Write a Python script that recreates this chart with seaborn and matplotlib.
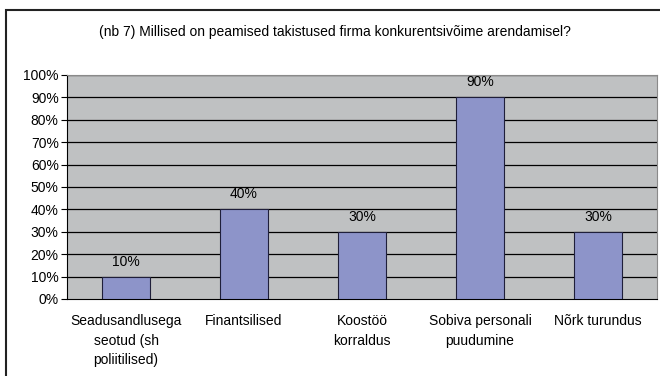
import numpy as np
import pandas as pd
import matplotlib
matplotlib.use('Agg')
from matplotlib import pyplot as plt
from matplotlib.patches import Rectangle
import seaborn as sns

sns.set_style('white')
plt.rcParams['font.family'] = ['Liberation Sans', 'DejaVu Sans']
plt.rcParams['text.color'] = 'black'
plt.rcParams['xtick.color'] = 'black'
plt.rcParams['ytick.color'] = 'black'

title = '(nb 7) Millised on peamised takistused firma konkurentsivõime arendamisel?'
categories = ['Seadusandlusega\nseotud (sh\npoliitilised)',
              'Finantsilised',
              'Koostöö\nkorraldus',
              'Sobiva personali\npuudumine',
              'Nõrk turundus']
values = [10, 40, 30, 90, 30]
yticks = list(range(0, 101, 10))

df = pd.DataFrame({'cat': categories, 'val': values})

fig = plt.figure(figsize=(6.6, 3.76), dpi=100)
ax = fig.add_axes([67 / 660, 1 - 299 / 376, 590 / 660, 224 / 376])
ax.set_facecolor('#bfc1c2')

sns.barplot(data=df, x='cat', y='val', ax=ax, color='#8d94c9',
            width=0.41, edgecolor='#1f1f3a', linewidth=0.8, saturation=1,
            zorder=3)

# value labels above the bars
for i, v in enumerate(values):
    ax.text(i, v + 3.6, '{}%'.format(v), ha='center', va='bottom',
            fontsize=10, color='black', zorder=4)

ax.set_ylim(0, 100)
ax.set_xlim(-0.5, len(categories) - 0.5)
ax.set_yticks(yticks)
ax.set_yticklabels(['{}%'.format(t) for t in yticks], fontsize=10)
for t in yticks[1:]:
    ax.axhline(t, color='black', linewidth=0.9, zorder=2)

# labels on category centres, tick marks between categories
ax.set_xticks(range(len(categories)))
ax.set_xticklabels(categories, fontsize=10, linespacing=1.5)
ax.set_xticks(np.arange(-0.5, len(categories), 1), minor=True)
ax.tick_params(axis='x', which='major', length=0, pad=11)
ax.tick_params(axis='x', which='minor', length=4, width=0.8, direction='out',
               color='black')
ax.tick_params(axis='y', length=4, width=0.8, direction='out', color='black',
               pad=2, left=True)
ax.set_xlabel('')
ax.set_ylabel('')

ax.spines['left'].set_color('black')
ax.spines['bottom'].set_color('black')
ax.spines['left'].set_linewidth(0.8)
ax.spines['bottom'].set_linewidth(0.8)
ax.spines['top'].set_color('#8a8a8a')
ax.spines['right'].set_color('#8a8a8a')

fig.text(335 / 660, 1 - 32 / 376, title, ha='center', va='center',
         fontsize=10, color='black')

# chart frame, running off the right and bottom edges
border = Rectangle((6 / 660, -0.05), 1.0, 1 - 10 / 376 + 0.05,
                   transform=fig.transFigure, fill=False, edgecolor='#222222',
                   linewidth=1.5, clip_on=False)
fig.patches.append(border)

fig.savefig('out.png', dpi=100)
